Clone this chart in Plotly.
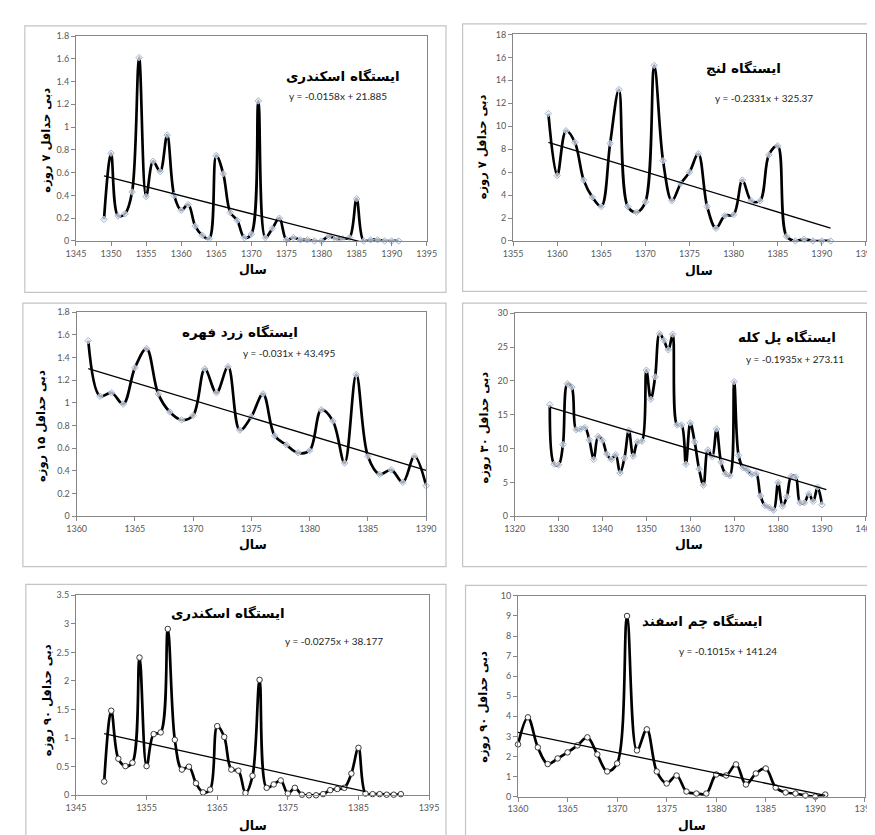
import plotly.graph_objects as go

# ---------------- data ----------------
years_p1 = list(range(1349, 1392))
vals_p1 = [0.19, 0.77, 0.22, 0.24, 0.43, 1.61, 0.39, 0.70, 0.61, 0.93, 0.40, 0.27, 0.32, 0.13,
           0.05, 0.02, 0.75, 0.59, 0.25, 0.18, 0.03, 0.06, 1.23, 0.03, 0.11, 0.20, 0.01, 0.03,
           0.01, 0.01, 0.00, 0.00, 0.04, 0.02, 0.02, 0.03, 0.37, 0.00, 0.01, 0.01, 0.00, 0.00, 0.00]

years_p2 = list(range(1359, 1392))
vals_p2 = [11.1, 5.7, 9.6, 8.6, 5.3, 3.8, 3.0, 8.5, 13.2, 3.0, 2.5, 3.4, 15.3, 7.0, 3.5, 5.0,
           6.0, 7.6, 3.0, 1.1, 2.2, 2.3, 5.3, 3.5, 3.5, 7.5, 8.3, 0.4, 0.0, 0.15, 0.0, 0.0, 0.0]

years_p3 = list(range(1361, 1391))
vals_p3 = [1.55, 1.06, 1.09, 0.99, 1.31, 1.48, 1.08, 0.92, 0.85, 0.89, 1.30, 1.09, 1.32, 0.76,
           0.88, 1.08, 0.71, 0.63, 0.56, 0.58, 0.94, 0.84, 0.47, 1.25, 0.53, 0.37, 0.41, 0.30,
           0.53, 0.27]

years_p4 = list(range(1328, 1391))
vals_p4 = [16.5, 7.7, 7.6, 10.6, 19.6, 19.1, 12.8, 12.9, 13.1, 11.3, 8.4, 11.8, 11.2, 9.2,
           8.4, 9.1, 6.4, 8.6, 12.7, 8.9, 11.0, 11.1, 21.6, 17.3, 20.6, 27.0, 26.0, 24.6,
           26.9, 13.5, 13.5, 7.7, 13.8, 11.0, 7.0, 4.6, 9.8, 8.8, 12.9, 8.0, 6.3, 6.0, 19.9,
           9.0, 7.2, 6.8, 6.2, 6.3, 3.0, 1.6, 1.3, 0.9, 5.0, 1.5, 2.9, 5.9, 5.8, 2.0, 2.0,
           3.3, 2.2, 4.3, 1.7]

years_p5 = list(range(1349, 1392))
vals_p5 = [0.24, 1.48, 0.64, 0.51, 0.57, 2.41, 0.51, 1.07, 1.10, 2.91, 0.97, 0.45, 0.50, 0.21,
           0.05, 0.10, 1.21, 1.02, 0.45, 0.43, 0.04, 0.34, 2.02, 0.13, 0.19, 0.26, 0.03, 0.13,
           0.01, 0.00, 0.00, 0.02, 0.09, 0.11, 0.13, 0.38, 0.83, 0.03, 0.02, 0.02, 0.01, 0.01, 0.02]

years_p6 = list(range(1360, 1392))
vals_p6 = [2.6, 3.95, 2.45, 1.62, 1.9, 2.2, 2.55, 2.95, 2.1, 1.25, 1.65, 9.0, 2.3, 3.35, 1.25,
           0.65, 1.05, 0.25, 0.15, 0.15, 1.1, 1.05, 1.6, 0.6, 1.15, 1.4, 0.45, 0.2, 0.15, 0.05,
           0.0, 0.1]

# linear trend coefficients (as printed on the charts) and trend spans
trend_coef = [(-0.0158, 21.885), (-0.2331, 325.37), (-0.031, 43.495),
              (-0.1935, 273.11), (-0.0275, 38.177), (-0.1015, 141.24)]
trend_span = [(1349, 1386), (1359, 1391), (1361, 1390), (1328, 1391), (1349, 1386), (1360, 1391)]

titles = ["ایستگاه اسکندری", "ایستگاه لنج", "ایستگاه زرد فهره",
          "ایستگاه پل کله", "ایستگاه اسکندری", "ایستگاه چم اسفند"]
y_titles = ["دبی حداقل ۷ روزه", "دبی حداقل ۷ روزه", "دبی حداقل ۱۵ روزه",
            "دبی حداقل ۳۰ روزه", "دبی حداقل ۹۰ روزه", "دبی حداقل ۹۰ روزه"]
x_title = "سال"
equations = ["y = -0.0158x + 21.885", "y = -0.2331x + 325.37", "y = -0.031x + 43.495",
             "y = -0.1935x + 273.11", "y = -0.0275x + 38.177", "y = -0.1015x + 141.24"]

x_ranges = [(1345, 1395), (1355, 1395), (1360, 1390), (1320, 1400), (1345, 1395), (1360, 1395)]
x_dticks = [5, 5, 5, 10, 10, 5]
y_ranges = [(0, 1.8), (0, 18), (0, 1.8), (0, 30), (0, 3.5), (0, 10)]
y_dticks = [0.2, 2, 0.2, 5, 0.5, 1]

years = [years_p1, years_p2, years_p3, years_p4, years_p5, years_p6]
values = [vals_p1, vals_p2, vals_p3, vals_p4, vals_p5, vals_p6]

# ---------------- layout geometry (pixels) ----------------
W, H = 875, 835
plot_px = [(59.3, 22.3, 418.3, 230), (506.7, 20.7, 867.7, 230),
           (60, 302.3, 417.7, 509), (508.3, 303.3, 867.7, 509),
           (59.3, 589, 420.7, 791.7), (511.7, 589.7, 866.7, 793)]
frame_px = [(7, 12, 438, 282), (455, 10, 880, 281),
            (5, 293, 438, 560), (455, 293, 880, 560),
            (8, 578, 438, 840), (458, 579, 880, 840)]
title_px = [(333, 63), (742, 55), (227, 322), (787, 327), (215, 607), (700, 615)]
eq_px = [(327, 83), (763, 85), (278, 344), (795, 350), (323, 635), (727, 645)]
xt_px = [(240, 259), (697, 260), (240, 538), (687, 538), (240, 822), (690, 822)]
yt_px = [(29, 128), (475, 135), (24, 417), (477, 419), (31, 695), (477, 702)]


def fx(x):
    return x / W


def fy(y):
    return 1 - y / H


fig = go.Figure()
shapes = []
annotations = []
persian_font = "DejaVu Sans"

for i in range(6):
    n = i + 1
    xa = "x" if n == 1 else f"x{n}"
    ya = "y" if n == 1 else f"y{n}"

    slope, icpt = trend_coef[i]
    tx = list(trend_span[i])
    ty = [slope * v + icpt for v in tx]

    if i < 4:
        marker = dict(symbol="diamond", size=5, color="rgba(235,240,248,0.7)",
                      line=dict(color="#A3B8D4", width=1))
    else:
        marker = dict(symbol="circle", size=5.5, color="white",
                      line=dict(color="#3a3a3a", width=1))

    fig.add_trace(go.Scatter(x=years[i], y=values[i], mode="lines+markers",
                             line=dict(color="black", width=2.7, shape="spline", smoothing=1.0),
                             marker=marker, xaxis=xa, yaxis=ya, showlegend=False,
                             cliponaxis=False))
    fig.add_trace(go.Scatter(x=tx, y=ty, mode="lines",
                             line=dict(color="black", width=1.3),
                             xaxis=xa, yaxis=ya, showlegend=False, hoverinfo="skip"))

    x0, y0, x1, y1 = plot_px[i]
    axis_common = dict(showgrid=False, zeroline=False, showline=True, mirror=True,
                       linecolor="#868686", linewidth=1, ticks="outside", ticklen=4,
                       tickcolor="#868686", tickmode="linear",
                       tickfont=dict(family="Lato", size=9, color="#595959"),
                       fixedrange=True)
    xr = x_ranges[i]
    yr = y_ranges[i]
    fig.layout["xaxis" + ("" if n == 1 else str(n))] = dict(
        domain=[fx(x0), fx(x1)], range=[xr[0], xr[1] + 1e-6], dtick=x_dticks[i], tick0=xr[0],
        anchor=ya, **axis_common)
    fig.layout["yaxis" + ("" if n == 1 else str(n))] = dict(
        domain=[fy(y1), fy(y0)], range=[yr[0], yr[1] * 1.000001], dtick=y_dticks[i], tick0=0,
        anchor=xa, **axis_common)

    fx0, fy0, fx1, fy1 = frame_px[i]
    shapes.append(dict(type="rect", xref="paper", yref="paper",
                       x0=fx(fx0), x1=fx(fx1), y0=fy(fy1), y1=fy(fy0),
                       line=dict(color="#C4C4C4", width=1.2), layer="below"))

    annotations.append(dict(text=titles[i], x=fx(title_px[i][0]), y=fy(title_px[i][1]),
                            xref="paper", yref="paper", showarrow=False,
                            xanchor="center", yanchor="middle",
                            font=dict(family=persian_font, size=13.5, color="black", weight="bold")))
    annotations.append(dict(text=equations[i], x=fx(eq_px[i][0]), y=fy(eq_px[i][1]),
                            xref="paper", yref="paper", showarrow=False,
                            xanchor="center", yanchor="middle",
                            font=dict(family="Lato", size=10, color="#262626")))
    annotations.append(dict(text=x_title, x=fx(xt_px[i][0]), y=fy(xt_px[i][1]),
                            xref="paper", yref="paper", showarrow=False,
                            xanchor="center", yanchor="middle",
                            font=dict(family=persian_font, size=12.5, color="black", weight="bold")))
    annotations.append(dict(text=y_titles[i], x=fx(yt_px[i][0]), y=fy(yt_px[i][1]),
                            xref="paper", yref="paper", showarrow=False, textangle=-90,
                            xanchor="center", yanchor="middle",
                            font=dict(family=persian_font, size=11.5, color="black", weight="bold")))

fig.update_layout(width=W, height=H, margin=dict(l=0, r=0, t=0, b=0),
                  paper_bgcolor="white", plot_bgcolor="white",
                  shapes=shapes, annotations=annotations, showlegend=False)

fig.write_html("out.html")
